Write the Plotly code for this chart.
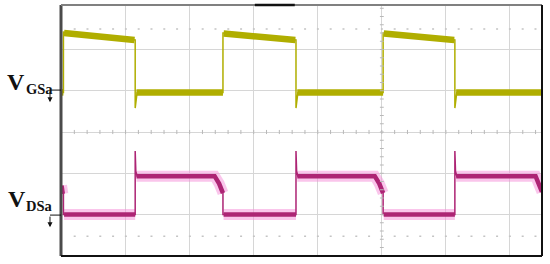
import plotly.graph_objects as go

# time in divisions (scope screen), level in divisions from centre line
gs_t = [0, 0.03, 0.03, 1.14, 1.15, 1.15, 1.18, 2.52, 2.52, 2.54, 3.65, 3.66, 3.66, 3.69,
        5.02, 5.02, 5.04, 6.13, 6.14, 6.14, 6.17, 7.5]
gs_v = [0.96, 0.96, 2.42, 2.23, 2.23, 0.58, 0.96, 0.96, 2.4, 2.4, 2.23, 2.23, 0.58, 0.96,
        0.96, 2.4, 2.4, 2.23, 2.23, 0.58, 0.96, 0.96]

# flat parts of the gate trace (drawn thick)
gs_band_t = [0, 0.03, None, 0.04, 1.14, None, 1.17, 2.52, None, 2.53, 3.65, None,
             3.68, 5.02, None, 5.03, 6.13, None, 6.16, 7.5]
gs_band_v = [0.96, 0.96, None, 2.4, 2.23, None, 0.96, 0.96, None, 2.39, 2.23, None,
             0.96, 0.96, None, 2.39, 2.23, None, 0.96, 0.96]

ds_t = [0, 0.02, 0.03, 0.03, 1.15, 1.15, 1.16, 1.18, 2.39, 2.46, 2.52, 2.52, 3.66, 3.66,
        3.67, 3.69, 4.89, 4.96, 5.02, 5.02, 6.14, 6.14, 6.15, 6.17, 7.4, 7.46, 7.5]
ds_v = [-1.3, -1.5, -1.5, -2.0, -2.0, -0.46, -0.95, -1.07, -1.07, -1.25, -1.48, -2.0, -2.0,
        -0.46, -0.95, -1.07, -1.07, -1.25, -1.48, -2.0, -2.0, -0.46, -0.95, -1.07, -1.07,
        -1.3, -1.45]

ds_band_t = [0, 0.02, None, 0.04, 1.15, None, 1.17, 2.39, 2.46, 2.52, None, 2.53, 3.66, None,
             3.68, 4.89, 4.96, 5.02, None, 5.03, 6.14, None, 6.16, 7.4, 7.46, 7.5]
ds_band_v = [-1.3, -1.5, None, -2.0, -2.0, None, -1.07, -1.07, -1.25, -1.48, None, -2.0, -2.0, None,
             -1.07, -1.07, -1.25, -1.48, None, -2.0, -2.0, None, -1.07, -1.07, -1.3, -1.45]

GS_COL = "#b0ae00"
DS_CORE = "#ad2474"
DS_HALO = "rgba(245,140,215,0.5)"

fig = go.Figure()
fig.add_trace(go.Scatter(x=gs_t, y=gs_v, mode="lines", line=dict(color=GS_COL, width=1.5)))
fig.add_trace(go.Scatter(x=gs_band_t, y=gs_band_v, mode="lines", connectgaps=False,
                         line=dict(color=GS_COL, width=6.5)))
fig.add_trace(go.Scatter(x=ds_band_t, y=ds_band_v, mode="lines", connectgaps=False,
                         line=dict(color=DS_HALO, width=11)))
fig.add_trace(go.Scatter(x=ds_t, y=ds_v, mode="lines", line=dict(color=DS_CORE, width=1.5)))
fig.add_trace(go.Scatter(x=ds_band_t, y=ds_band_v, mode="lines", connectgaps=False,
                         line=dict(color=DS_CORE, width=4.5)))

shapes = []
# minor ticks on the centre cross
for k in range(1, 38):
    shapes.append(dict(type="line", xref="x", yref="y", x0=k * 0.2, x1=k * 0.2, y0=-0.05, y1=0.05,
                       line=dict(color="#b8b8b8", width=1)))
for k in range(-15, 16):
    shapes.append(dict(type="line", xref="x", yref="y", x0=4.97, x1=5.03, y0=k * 0.2, y1=k * 0.2,
                       line=dict(color="#b8b8b8", width=1)))
# dotted rows
for yy in [2.5, -2.53]:
    shapes.append(dict(type="line", xref="x", yref="y", x0=0.19, x1=7.5, y0=yy, y1=yy,
                       line=dict(color="#c4c4c4", width=1.5, dash="2px,10.8px")))
# frame
shapes += [
    dict(type="line", xref="paper", yref="paper", x0=0, x1=0, y0=0, y1=1, line=dict(color="#4a4a4a", width=3)),
    dict(type="line", xref="paper", yref="paper", x0=0, x1=1, y0=1, y1=1, line=dict(color="#808080", width=2)),
    dict(type="line", xref="paper", yref="paper", x0=0.403, x1=0.486, y0=1, y1=1, line=dict(color="#111", width=2.5)),
    dict(type="line", xref="paper", yref="paper", x0=1, x1=1, y0=0, y1=1, line=dict(color="#111", width=2)),
    dict(type="line", xref="paper", yref="paper", x0=0, x1=1, y0=0, y1=0, line=dict(color="#111", width=2)),
]
# ground markers
for py in [0.661, 0.163]:
    shapes.append(dict(type="line", xref="paper", yref="paper", x0=-0.0229, x1=0, y0=py, y1=py,
                       line=dict(color="#111", width=1)))

annotations = []
for py in [0.661, 0.163]:
    annotations.append(dict(xref="paper", yref="paper", x=-0.0229, y=py - 0.048, ax=0, ay=-12,
                            text="", showarrow=True, arrowhead=2, arrowsize=1, arrowwidth=1,
                            arrowcolor="#111"))

LBL = "Liberation Serif"
annotations += [
    dict(xref="paper", yref="paper", x=-0.1163, y=0.693, text="<b>V</b>", showarrow=False,
         xanchor="left", yanchor="middle", font=dict(family=LBL, size=24, color="#111")),
    dict(xref="paper", yref="paper", x=-0.0768, y=0.667, text="<b>GSa</b>", showarrow=False,
         xanchor="left", yanchor="middle", font=dict(family=LBL, size=14.5, color="#111")),
    dict(xref="paper", yref="paper", x=-0.1143, y=0.227, text="<b>V</b>", showarrow=False,
         xanchor="left", yanchor="middle", font=dict(family=LBL, size=24, color="#111")),
    dict(xref="paper", yref="paper", x=-0.0768, y=0.201, text="<b>DSa</b>", showarrow=False,
         xanchor="left", yanchor="middle", font=dict(family=LBL, size=14.5, color="#111")),
]

fig.update_layout(
    width=550, height=264,
    margin=dict(l=61, r=8, t=5, b=8),
    plot_bgcolor="white", paper_bgcolor="white",
    showlegend=False,
    shapes=shapes, annotations=annotations,
    xaxis=dict(range=[-0.008, 7.5], tickvals=[1, 2, 3, 4, 5, 6, 7], showticklabels=False,
               gridcolor="#d6d6d6", gridwidth=1, zeroline=False, showline=False),
    yaxis=dict(range=[-3.006, 3.079], tickvals=[-2, -1, 0, 1, 2], showticklabels=False,
               gridcolor="#d6d6d6", gridwidth=1, zeroline=False, showline=False),
)

fig.write_html("out.html", config={"displayModeBar": False},
               post_script="document.body.style.margin='0';")
